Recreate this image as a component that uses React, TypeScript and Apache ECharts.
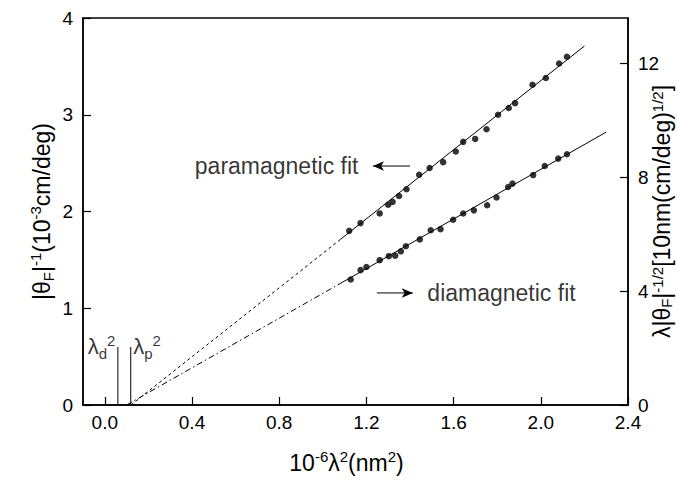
import React, { useEffect, useRef } from "react";
import * as echarts from "echarts";

// ---- data ----
const xTicks = [0, 0.4, 0.8, 1.2, 1.6, 2.0, 2.4];
const leftTicks = [0, 1, 2, 3, 4];
const rightTicks = [0, 4, 8, 12];

// paramagnetic data (left axis)
const paraX = [1.121, 1.173, 1.261, 1.3, 1.32, 1.35, 1.384, 1.442, 1.49, 1.552, 1.61, 1.644, 1.699, 1.751, 1.804, 1.853, 1.882, 1.962, 2.023, 2.084, 2.12];
const paraY = [1.8, 1.88, 1.98, 2.07, 2.1, 2.16, 2.23, 2.38, 2.45, 2.51, 2.62, 2.72, 2.75, 2.85, 3.0, 3.07, 3.12, 3.31, 3.38, 3.53, 3.6];

// diamagnetic data (right axis)
const diaX = [1.128, 1.173, 1.2, 1.261, 1.303, 1.332, 1.358, 1.381, 1.445, 1.495, 1.54, 1.598, 1.644, 1.693, 1.754, 1.797, 1.85, 1.87, 1.965, 2.018, 2.08, 2.12];
const diaY = [4.41, 4.74, 4.85, 5.09, 5.23, 5.25, 5.4, 5.58, 5.82, 6.14, 6.18, 6.51, 6.73, 6.84, 7.02, 7.29, 7.66, 7.78, 8.08, 8.4, 8.66, 8.81];

// fit lines
const paraFitExtrap = [[0.12, 0], [1.08, 1.71]];
const paraFitSolid = [[1.08, 1.71], [2.2, 3.71]];
const diaFitExtrap = [[0.1, 0], [1.08, 4.27]];
const diaFitSolid = [[1.08, 4.27], [2.3, 9.59]];

// lambda markers
const lambdaD = 0.06;
const lambdaP = 0.119;
const lambdaHeight = 0.6;

// annotation arrows (left-axis units)
const paraArrow = [[1.23, 2.47], [1.4, 2.47]];
const diaArrow = [[1.248, 1.158], [1.413, 1.158]];

const FONT = "'Liberation Sans', Arial, Helvetica, sans-serif";

const makeRich = (lh: number) => ({
  a: { fontSize: 23, fontFamily: FONT, color: "#000", lineHeight: lh },
  sup: { fontSize: 15, fontFamily: FONT, color: "#000", verticalAlign: "top", lineHeight: 15 },
  sub: { fontSize: 15, fontFamily: FONT, color: "#000", verticalAlign: "bottom", lineHeight: 15 },
});
const richBase = makeRich(28);
const richRight = makeRich(24);

const richLambda = {
  l: { fontSize: 22, fontFamily: FONT, color: "#000", lineHeight: 28 },
  sup: { fontSize: 15, fontFamily: FONT, color: "#000", verticalAlign: "top", lineHeight: 15 },
  sub: { fontSize: 15, fontFamily: FONT, color: "#000", verticalAlign: "bottom", lineHeight: 15 },
};

export default function App() {
  const ref = useRef<HTMLDivElement>(null);
  useEffect(() => {
    if (!ref.current) return;
    const chart = echarts.init(ref.current, null, { renderer: "svg" });
    const black = "#000";
    const lineSeries = (data: number[][], type: any, yAxisIndex = 0) => ({
      type: "line",
      data,
      yAxisIndex,
      symbol: "none",
      silent: true,
      lineStyle: { color: black, width: 1, type },
      z: 3,
    });
    const arrowSeries = (pts: number[][], headAtStart: boolean) => ({
      type: "line",
      silent: true,
      showSymbol: true,
      data: [
        headAtStart
          ? { value: pts[0], symbol: "arrow", symbolSize: [7, 11], symbolRotate: 90, itemStyle: { color: black } }
          : { value: pts[0], symbol: "none" },
        headAtStart
          ? { value: pts[1], symbol: "none" }
          : { value: pts[1], symbol: "arrow", symbolSize: [7, 11], symbolRotate: -90, itemStyle: { color: black } },
      ],
      lineStyle: { color: black, width: 1 },
      z: 4,
    });
    const option: any = {
      animation: false,
      backgroundColor: "#fff",
      grid: {
        left: 83, right: 49, top: 18, bottom: 80,
        outerBoundsMode: "none",
        containLabel: false,
        show: true, borderColor: black, borderWidth: 1.5, backgroundColor: "transparent",
      },
      xAxis: {
        type: "value",
        min: -0.1,
        max: 2.4,
        name: "{a|10}{sup|-6}{a|λ}{sup|2}{a|(nm}{sup|2}{a|)}",
        nameLocation: "middle",
        nameGap: 44,
        nameMoveOverlap: false,
        nameTextStyle: { rich: richBase, padding: [0, 18, 0, 0] },
        axisLine: { show: true, onZero: false, lineStyle: { color: black, width: 1.5 } },
        axisTick: { show: true, inside: true, length: 8, customValues: xTicks, lineStyle: { color: black, width: 1.2 } },
        axisLabel: { customValues: xTicks, formatter: (v: number) => v.toFixed(1), fontSize: 19, fontFamily: FONT, color: black, margin: 8 },
        splitLine: { show: false },
      },
      yAxis: [
        {
          type: "value",
          min: 0,
          max: 4,
          interval: 1,
          position: "left",
          name: "{a||θ}{sub|F}{a||}{sup|-1}{a|(10}{sup|-3}{a|cm/deg)}",
          nameLocation: "middle",
          nameRotate: 90,
          nameGap: 27,
          nameMoveOverlap: false,
          nameTextStyle: { rich: richBase },
          axisLine: { show: true, onZero: false, lineStyle: { color: black, width: 1.5 } },
          axisTick: { show: true, inside: true, length: 8, customValues: leftTicks, lineStyle: { color: black, width: 1.2 } },
          axisLabel: { customValues: leftTicks, fontSize: 19, fontFamily: FONT, color: black, margin: 10 },
          splitLine: { show: false },
        },
        {
          type: "value",
          min: 0,
          max: 13.6,
          position: "right",
          name: "{a|λ|θ}{sub|F}{a||}{sup|-1/2}{a|[10nm(cm/deg)}{sup|1/2}{a|]}",
          nameLocation: "middle",
          nameRotate: 90,
          nameGap: 22,
          nameMoveOverlap: false,
          nameTextStyle: { rich: richRight },
          axisLine: { show: true, onZero: false, lineStyle: { color: black, width: 1.5 } },
          axisTick: { show: true, inside: true, length: 8, customValues: rightTicks, lineStyle: { color: black, width: 1.2 } },
          axisLabel: { customValues: rightTicks, fontSize: 19, fontFamily: FONT, color: black, margin: 10 },
          splitLine: { show: false },
        },
      ],
      series: [
        lineSeries(paraFitExtrap, [3, 3]),
        lineSeries(paraFitSolid, "solid"),
        lineSeries(diaFitExtrap, [6, 3, 1.5, 3], 1),
        lineSeries(diaFitSolid, "solid", 1),
        lineSeries([[lambdaD, 0], [lambdaD, lambdaHeight]], "solid"),
        lineSeries([[lambdaP, 0], [lambdaP, lambdaHeight]], "solid"),
        {
          type: "scatter",
          data: paraX.map((x, i) => [x, paraY[i]]),
          symbol: "circle",
          symbolSize: 6.5,
          itemStyle: { color: black },
          yAxisIndex: 0,
          z: 5,
        },
        {
          type: "scatter",
          data: diaX.map((x, i) => [x, diaY[i]]),
          symbol: "circle",
          symbolSize: 6.5,
          itemStyle: { color: black },
          yAxisIndex: 1,
          z: 5,
        },
        arrowSeries(paraArrow, true),
        arrowSeries(diaArrow, false),
        {
          type: "scatter",
          silent: true,
          symbol: "circle",
          symbolSize: 1,
          itemStyle: { color: "rgba(0,0,0,0)" },
          z: 6,
          data: [
            {
              value: paraArrow[0],
              label: { show: true, position: "left", distance: 14, formatter: "paramagnetic fit", fontSize: 23, fontFamily: FONT, color: black },
            },
            {
              value: diaArrow[1],
              label: { show: true, position: "right", distance: 14, formatter: "diamagnetic fit", fontSize: 23, fontFamily: FONT, color: black },
            },
            {
              value: [lambdaD, lambdaHeight],
              label: { show: true, position: "left", distance: 2, formatter: "{l|λ}{sub|d}{sup|2}", rich: richLambda },
            },
            {
              value: [lambdaP, lambdaHeight],
              label: { show: true, position: "right", distance: 2, formatter: "{l|λ}{sub|p}{sup|2}", rich: richLambda },
            },
          ],
        },
      ],
    };
    chart.setOption(option);
    return () => chart.dispose();
  }, []);
  return <div ref={ref} style={{ position: "fixed", left: 0, top: 0, width: 677, height: 485, background: "#fff" }} />;
}
